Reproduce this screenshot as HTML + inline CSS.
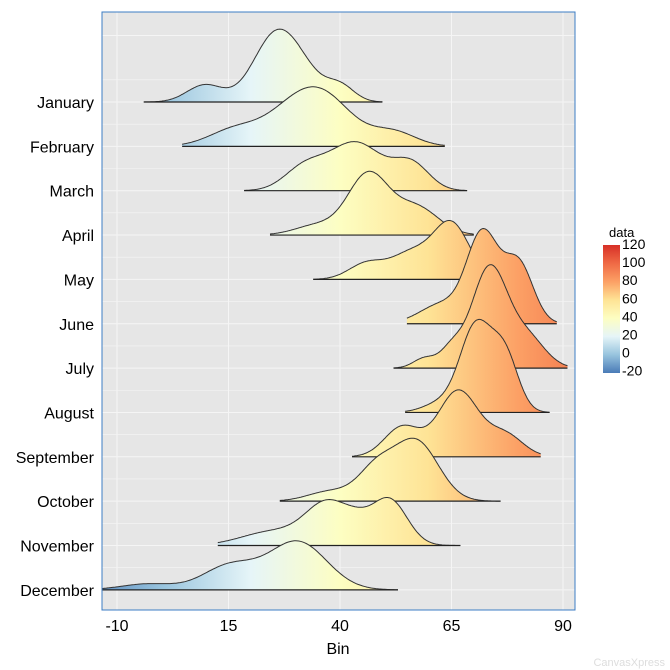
<!DOCTYPE html>
<html><head><meta charset="utf-8"><style>
body{margin:0;background:#fff;}
svg{display:block;font-family:"Liberation Sans",Arial,sans-serif;}
</style></head><body>
<svg id="s" width="670" height="670" viewBox="0 0 670 670" xmlns="http://www.w3.org/2000/svg">
<defs>
<linearGradient id="g" gradientUnits="userSpaceOnUse" x1="72.4" y1="0" x2="696.8" y2="0">
<stop offset="0" stop-color="#4a7bb7"/>
<stop offset="0.143" stop-color="#98c4de"/>
<stop offset="0.286" stop-color="#e6f5f8"/>
<stop offset="0.429" stop-color="#fdfec2"/>
<stop offset="0.571" stop-color="#fee395"/>
<stop offset="0.714" stop-color="#fca065"/>
<stop offset="0.857" stop-color="#ef6a45"/>
<stop offset="1" stop-color="#d73027"/>
</linearGradient>
<linearGradient id="lg" x1="0" y1="1" x2="0" y2="0">
<stop offset="0" stop-color="#4a7bb7"/>
<stop offset="0.143" stop-color="#98c4de"/>
<stop offset="0.286" stop-color="#e6f5f8"/>
<stop offset="0.429" stop-color="#fdfec2"/>
<stop offset="0.571" stop-color="#fee395"/>
<stop offset="0.714" stop-color="#fca065"/>
<stop offset="0.857" stop-color="#ef6a45"/>
<stop offset="1" stop-color="#d73027"/>
</linearGradient>
</defs>
<rect x="102" y="12" width="473" height="598" fill="#e6e6e6"/>
<g id="grid" stroke="#f5f5f5" stroke-width="1"></g>
<g id="ridges"></g>
<rect x="102" y="12" width="473" height="598" fill="none" stroke="#3c7dc4" stroke-width="1"/>
<g id="labels" font-size="16" fill="#000"></g>
<text x="338" y="654" font-size="16" text-anchor="middle">Bin</text>
<rect x="603" y="245" width="17" height="128" fill="url(#lg)"/>
<text x="609" y="237" font-size="13">data</text>
<g font-size="14" id="leg"></g>
<text x="665" y="666" font-size="11" fill="#ddd" text-anchor="end">CanvasXpress</text>
</svg>
<script>
const ns="http://www.w3.org/2000/svg";
function el(t,a,p,txt){const e=document.createElementNS(ns,t);for(const k in a)e.setAttribute(k,a[k]);if(txt!==undefined)e.textContent=txt;p.appendChild(e);return e;}
const X=v=>117+(v+10)*4.46;
const months=["January","February","March","April","May","June","July","August","September","October","November","December"];
const base=i=>102+i*44.35;
const grid=document.getElementById('grid'),lab=document.getElementById('labels');
[-10,15,40,65,90].forEach(v=>{el('line',{x1:X(v),x2:X(v),y1:12,y2:610},grid);el('text',{x:X(v),y:631,'text-anchor':'middle'},lab,String(v));});
for(let i=0;i<12;i++){el('line',{x1:102,x2:575,y1:base(i),y2:base(i)},grid);el('line',{x1:102,x2:575,y1:base(i)-22.2,y2:base(i)-22.2,'stroke-width':0.6},grid);
el('text',{x:94,y:base(i)+6,'text-anchor':'end'},lab,months[i]);}
el('line',{x1:102,x2:575,y1:base(0)-66.5,y2:base(0)-66.5},grid);
const D=[
[-4,49.5,[[9.7,4,17],[26,5.2,70],[40,3.2,16],[33,4,12]]],
[4.6,63.5,[[17,6,18],[35,7,56],[52,5,14],[27,5,10]]],
[18.5,68.5,[[32,4.5,22],[43.5,6,48],[56,4,26]]],
[24.3,70,[[46.3,4.5,60],[57,5,28],[35,5,10]]],
[34,75,[[46,4,16],[56,4.5,26],[65,4,55]]],
[55,88.6,[[72,3.5,88],[80,3.3,60],[63,5,20]]],
[52,91,[[59,2.5,10],[65,2.5,18],[73.5,4,100],[82,4,30]]],
[54.6,87,[[70.5,3.5,85],[77,3,55],[63,4,10]]],
[42.7,85,[[54,4,30],[66.5,4.5,66],[77,4,22]]],
[26.5,76,[[38,5,10],[48,4,30],[57,5,60]]],
[12.6,67,[[25,7,14],[37.5,5,42],[51,4,46],[44,3,10]]],
[-13.4,53,[[-3,6,6],[15.3,6,24],[30.5,6.5,48]]]
];
const rg=document.getElementById('ridges');
D.forEach((d,i)=>{const [a,b,comp]=d;const y0=base(i);let pts=[];
for(let k=0;k<=200;k++){const v=a+(b-a)*k/200;let h=0;comp.forEach(c=>{h+=c[2]*Math.exp(-0.5*((v-c[0])/c[1])**2);});pts.push([X(v),y0-h]);}
let p='M'+X(a)+','+y0+pts.map(q=>'L'+q[0].toFixed(1)+','+q[1].toFixed(1)).join('')+'L'+X(b)+','+y0+'Z';
el('path',{d:p,fill:'url(#g)',stroke:'none'},rg);
el('path',{d:'M'+pts.map(q=>q[0].toFixed(1)+','+q[1].toFixed(1)).join('L'),fill:'none',stroke:'#333','stroke-width':1},rg);
el('line',{x1:X(a),x2:X(b),y1:y0,y2:y0,stroke:'#222','stroke-width':1.2},rg);});
const lg=document.getElementById('leg');
[120,100,80,60,40,20,0,-20].forEach((v,i)=>el('text',{x:622,y:249+i*18.1},lg,String(v)));
</script>
</body></html>
